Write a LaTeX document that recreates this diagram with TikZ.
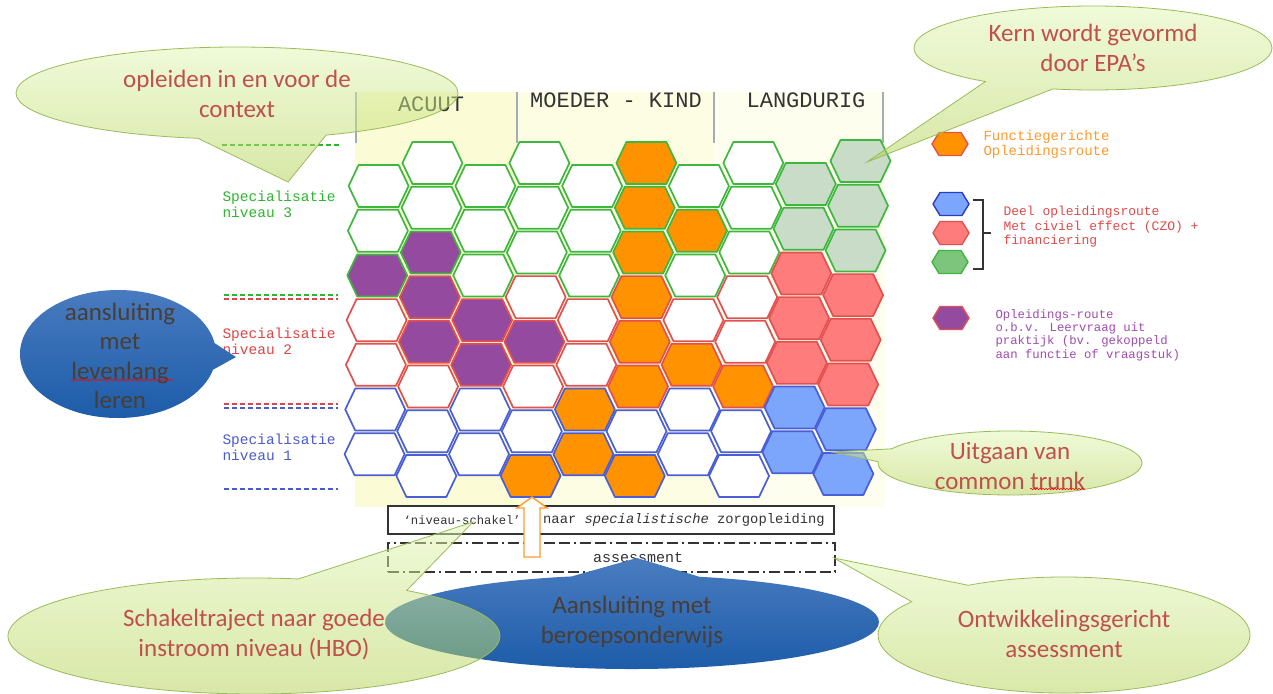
\documentclass[tikz,border=0pt]{standalone}
\usepackage{fontspec}
\setmainfont{Carlito}
\newfontfamily\tw{Liberation Mono}
\usetikzlibrary{shapes.callouts,decorations.pathmorphing}
\definecolor{gB}{HTML}{3DB83D}
\definecolor{rB}{HTML}{E35050}
\definecolor{bB}{HTML}{4A5ED8}
\definecolor{oF}{HTML}{FF9200}
\definecolor{pF}{HTML}{944A9E}
\definecolor{gF}{HTML}{C8DCC8}
\definecolor{rF}{HTML}{FF7C7C}
\definecolor{bF}{HTML}{7BA6FB}
\definecolor{yA}{HTML}{FBFCD6}
\definecolor{yM}{HTML}{FDFDE4}
\definecolor{yL}{HTML}{FEFEEE}
\definecolor{hdr}{HTML}{A3ADB5}
\definecolor{cgTop}{HTML}{E2F7B4}
\definecolor{cgBot}{HTML}{B2D150}
\definecolor{cgLine}{HTML}{9BBB59}
\definecolor{cTxt}{HTML}{C0504D}
\definecolor{cbTop}{HTML}{4A7CC0}
\definecolor{cbBot}{HTML}{1B5BA8}
\definecolor{cbTxt}{HTML}{4A3D33}
\definecolor{lgO}{HTML}{FF9A2E}
\definecolor{lgR}{HTML}{E24A4A}
\definecolor{lgP}{HTML}{A04BB0}
\definecolor{lgG}{HTML}{7DC47D}
\definecolor{lgBb}{HTML}{2A3BC8}
\definecolor{lv3}{HTML}{2DB52D}
\definecolor{lv2}{HTML}{E04545}
\definecolor{lv1}{HTML}{4A5AD0}
\definecolor{ink}{HTML}{333333}
\begin{document}
\begin{tikzpicture}[x=1pt,y=-1pt,
  hexline/.style={line width=1.7pt, line join=round},
  lhex/.style={line width=1.4pt, line join=round},
  dashL/.style={dash pattern=on 5pt off 3pt, line width=1.4pt},
  twf/.style={font=\tw\fontsize{#1}{#1}\selectfont},
  callG/.style={ellipse callout, draw=cgLine, line width=0.8pt, top color=cgTop, bottom color=cgBot, fill opacity=0.5, inner sep=0pt, callout pointer arc=24},
  callB/.style={ellipse callout, draw=none, top color=cbTop, bottom color=cbBot, inner sep=0pt, callout pointer arc=24},
  ctext/.style={font=\fontsize{25}{30}\selectfont, align=center, text=cTxt},
  cbtext/.style={font=\fontsize{25}{29.5}\selectfont, align=center, text=cbTxt},
  spell/.style={draw=red, line width=0.6pt, decorate, decoration={snake, amplitude=0.7pt, segment length=3pt}}
]
\useasboundingbox[fill=white] (0,0) rectangle (1273,693);
% background columns
\fill[yA] (355,92) rectangle (517,507);
\fill[yM] (517,92) rectangle (714,507);
\fill[yL] (714,92) rectangle (885,507);
\foreach \hx in {356,517,714,883} \draw[hdr, line width=2pt] (\hx,92) -- (\hx,143);
\node[twf=22, text=ink] (hA) at (431,104) {ACUUT};
\node[twf=22, text=ink] (hM) at (616,100) {MOEDER - KIND};
\node[twf=22, text=ink] (hL) at (806,100) {LANGDURIG};
% hexagon grid
\foreach \col/\xo/\yo/\lst in {1/379/186/{white/gB,white/gB,pF/gB,white/rB,white/rB,white/bB,white/bB},%
 2/432.5/163/{white/gB,white/gB,pF/gB,pF/rB,pF/rB,white/rB,white/bB,white/bB},%
 3/486/186/{white/gB,white/gB,white/gB,pF/rB,pF/rB,white/bB,white/bB},%
 4/539.5/163/{white/gB,white/gB,white/gB,white/rB,pF/rB,white/rB,white/bB,oF/bB},%
 5/593/186/{white/gB,white/gB,white/gB,white/rB,white/rB,oF/bB,oF/bB},%
 6/646.5/163/{oF/gB,oF/gB,oF/gB,oF/rB,oF/rB,oF/rB,white/bB,oF/bB},%
 7/700/186/{white/gB,oF/gB,white/gB,white/rB,oF/rB,white/bB,white/bB},%
 8/753.5/163/{white/gB,white/gB,white/gB,white/rB,white/rB,oF/rB,white/bB,white/bB},%
 9/807/184/{gF/gB,gF/gB,rF/rB,rF/rB,rF/rB,bF/bB,bF/bB},%
 10/860.5/161/{gF/gB,gF/gB,gF/gB,rF/rB,rF/rB,rF/rB,bF/bB,bF/bB}}{%
  \foreach \hf/\hb [count=\rr from 0] in \lst {
    \pgfmathsetmacro\yy{\yo+44.7*\rr}
    \pgfmathsetmacro\xx{\xo-(0.015+0.0044*(\col-1))*(\yy-160)}
    \path[hexline, draw=\hb, fill=\hf, shift={(\xx,\yy)}] (-30,0) -- (-20,-21) -- (20,-21) -- (30,0) -- (20,21) -- (-20,21) -- cycle;
  }
}
% level lines and labels
\draw[dashL, lv3] (222,145) -- (340,145);
\draw[dashL, lv3] (224,295) -- (338,295);
\draw[dashL, lv2] (224,299) -- (338,299);
\draw[dashL, lv2] (224,404) -- (338,404);
\draw[dashL, lv1] (224,408) -- (338,408);
\draw[dashL, lv1] (224,489) -- (338,489);
\node[text=lv3, align=left, anchor=west, font=\tw\fontsize{14.5}{16}\selectfont] (l3) at (219,204) {Specialisatie\\niveau 3};
\node[text=lv2, align=left, anchor=west, font=\tw\fontsize{14.5}{16}\selectfont] (l2) at (219,341) {Specialisatie\\niveau 2};
\node[text=lv1, align=left, anchor=west, font=\tw\fontsize{14.5}{16}\selectfont] (l1) at (219,447) {Specialisatie\\niveau 1};
% legend
\path[lhex, draw=rB, fill=oF, shift={(950,144)}] (-18,0) -- (-11,-11.5) -- (11,-11.5) -- (18,0) -- (11,11.5) -- (-11,11.5) -- cycle;
\path[lhex, draw=lgBb, fill=bF, shift={(951,204)}] (-18,0) -- (-11,-11.5) -- (11,-11.5) -- (18,0) -- (11,11.5) -- (-11,11.5) -- cycle;
\path[lhex, draw=rB, fill=rF, shift={(951,233)}] (-18,0) -- (-11,-11.5) -- (11,-11.5) -- (18,0) -- (11,11.5) -- (-11,11.5) -- cycle;
\path[lhex, draw=gB, fill=lgG, shift={(950,262)}] (-18,0) -- (-11,-11.5) -- (11,-11.5) -- (18,0) -- (11,11.5) -- (-11,11.5) -- cycle;
\path[lhex, draw=rB, fill=pF, shift={(951,318)}] (-18,0) -- (-11,-11.5) -- (11,-11.5) -- (18,0) -- (11,11.5) -- (-11,11.5) -- cycle;
\draw[ink, line width=1.6pt] (973,200) -- (983,200) -- (983,269) -- (973,269);
\draw[ink, line width=1.6pt] (983,233) -- (991,233);
\node[text=lgO, align=left, anchor=west, font=\tw\fontsize{14}{15}\selectfont] (lgF) at (980,144) {Functiegerichte\\Opleidingsroute};
\node[text=lgR, align=left, anchor=west, font=\tw\fontsize{13}{14.5}\selectfont] (lgD) at (1000,227) {Deel opleidingsroute\\Met civiel effect (CZO) +\\financiering};
\node[text=lgP, align=left, anchor=west, font=\tw\fontsize{12.3}{13.3}\selectfont] (lgO) at (992,335) {Opleidings-route\\o.b.v. Leervraag uit\\praktijk (bv. gekoppeld\\aan functie of vraagstuk)};
% bottom boxes
\node[draw=ink, line width=1.6pt, minimum width=446, minimum height=28, inner sep=0pt] (bx1) at (611,520) {};
\node[text=ink, anchor=east, inner sep=0pt, font=\tw\fontsize{12.2}{14}\selectfont] (bx1a) at (521,520) {‘niveau-schakel’};
\node[text=ink, anchor=west, inner sep=0pt, font=\tw\fontsize{13.8}{14}\selectfont] (bx1b) at (543,520) {naar \textit{specialistische} zorgopleiding};
\node[draw=ink, line width=1.4pt, dash pattern=on 11pt off 4pt on 2pt off 4pt on 11pt off 4pt, minimum width=447, minimum height=29, inner sep=0pt] (bx2) at (611.5,557.5) {};
\node[text=ink, font=\tw\fontsize{15}{15}\selectfont] (bx2t) at (638,558) {assessment};
\draw[lgO, line width=1.4pt, fill=white, line join=miter] (532,497) -- (547,508) -- (540,508) -- (540,557) -- (524,557) -- (524,508) -- (517,508) -- cycle;
% blue callouts
\node[callB, minimum width=196, minimum height=128, callout absolute pointer={(236,357)}] (cLev) at (118,354) {};
\node[cbtext] (tLev) at (120,356) {aansluiting\\met\\levenlang\\leren};
\draw[spell] (71,380) -- (173,380);
\node[callB, minimum width=494, minimum height=94, callout pointer arc=30, callout absolute pointer={(637,558)}] (cBer) at (632,622) {};
\node[cbtext] (tBer) at (632,622) {Aansluiting met\\beroepsonderwijs};
% green callouts
\node[callG, minimum width=442, minimum height=92, callout pointer arc=34, callout absolute pointer={(288,182)}] (cOpl) at (237,93) {};
\node[ctext] (tOpl) at (237,93.5) {opleiden in en voor de\\context};
\node[callG, minimum width=358, minimum height=84, callout absolute pointer={(867,162)}] (cKern) at (1093,48) {};
\node[ctext] (tKern) at (1093,48) {Kern wordt gevormd\\door EPA’s};
\node[callG, minimum width=264, minimum height=64, callout absolute pointer={(832,452)}] (cUit) at (1010,463) {};
\node[ctext] (tUit) at (1010,466) {Uitgaan van\\common trunk};
\draw[spell] (1030,489) -- (1085,489);
\node[callG, minimum width=492, minimum height=116, callout pointer arc=28, callout absolute pointer={(473,522)}] (cSch) at (254,636) {};
\node[ctext] (tSch) at (254,635) {Schakeltraject naar goede\\instroom niveau (HBO)};
\node[callG, minimum width=372, minimum height=116, callout absolute pointer={(834,558)}] (cOnt) at (1064,635) {};
\node[ctext] (tOnt) at (1064,634) {Ontwikkelingsgericht\\assessment};
\end{tikzpicture}
\end{document}
